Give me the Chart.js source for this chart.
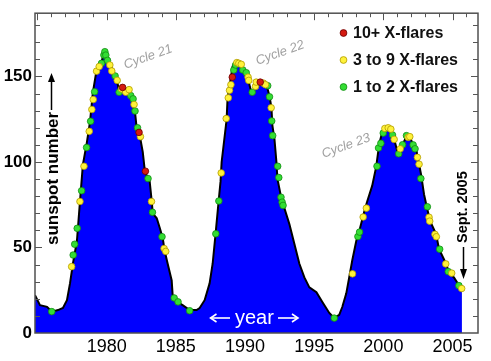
<!DOCTYPE html>
<html><head><meta charset="utf-8">
<script src="https://cdn.jsdelivr.net/npm/chart.js@4"></script>
<style>html,body{margin:0;padding:0;background:#fff;overflow:hidden}</style>
</head><body>
<canvas id="c" width="491" height="361"></canvas>
<script>
// Smoothed monthly sunspot number
const curveYears = [1974.82,1975.18,1975.69,1976.05,1976.48,1976.84,1977.13,1977.35,1977.56,1977.85,1978.07,1978.28,1978.57,1978.79,1979.0,1979.29,1979.65,1979.87,1980.09,1980.45,1980.74,1980.88,1981.17,1981.53,1981.82,1982.03,1982.18,1982.39,1982.61,1982.75,1982.97,1983.11,1983.26,1983.33,1983.62,1983.84,1984.05,1984.19,1984.41,1984.70,1984.77,1985.13,1985.49,1986.0,1986.5,1986.72,1987.08,1987.44,1987.66,1987.87,1988.09,1988.23,1988.31,1988.67,1988.74,1988.88,1989.10,1989.39,1989.75,1990.11,1990.25,1990.47,1990.83,1991.19,1991.55,1991.77,1991.91,1991.98,1992.13,1992.27,1992.34,1992.63,1992.85,1993.21,1993.57,1993.93,1994.29,1994.65,1995.16,1995.59,1996.09,1996.45,1996.81,1997.03,1997.32,1997.53,1997.75,1998.04,1998.26,1998.62,1998.83,1999.19,1999.48,1999.70,1999.91,2000.20,2000.56,2000.78,2001.07,2001.36,2001.64,2001.86,2002.08,2002.37,2002.51,2002.73,2002.94,2003.16,2003.38,2003.81,2004.02,2004.53,2004.74,2005.10,2005.46,2005.68];
const curveValues = [22.1,16.3,15.3,12.5,13.4,14.6,19.2,29.0,40.5,53.8,76.9,98.3,111.5,123.1,140.4,154.8,159.5,164.0,159.5,153.7,147.9,142.1,143.3,142.1,137.5,130.6,119.0,115.6,105.8,95.4,90.2,88.5,76.9,70.0,67.1,61.4,55.6,48.1,40.5,30.7,22.1,18.1,16.3,13.4,13.4,14.6,19.2,29.0,40.5,57.8,76.9,88.5,100.0,124.8,137.5,144.4,155.9,158.8,154.8,150.7,147.3,140.4,144.4,147.3,145.0,138.6,131.7,121.3,113.2,100.0,90.2,78.6,72.9,63.6,52.1,40.5,32.5,26.7,23.8,18.1,11.7,8.8,10.6,15.2,23.2,32.5,42.4,53.8,59.6,71.1,76.9,86.0,97.1,110.4,117.3,120.2,119.0,113.2,104.6,109.8,114.4,115.6,111.5,107.5,101.7,92.5,81.0,72.9,65.4,57.8,49.2,40.5,35.3,32.5,27.9,25.6];

// Months with 10+ X-flares
const redYears  = [1981.15,1982.34,1982.80,1989.08,1991.10];
const redValues = [143.6,117.3,94.6,149.6,146.7];

// Months with 3 to 9 X-flares
const yellowYears  = [1977.47,1978.07,1978.36,1978.74,1978.93,1979.03,1979.27,1979.46,1980.23,1980.37,1980.76,1981.07,1981.38,1981.62,1981.98,1982.44,1983.24,1984.15,1984.27,1988.28,1988.64,1988.79,1988.88,1988.98,1989.41,1989.55,1989.73,1990.22,1990.27,1990.76,1990.81,1991.33,1991.48,1991.89,1997.77,1998.54,1998.77,2000.11,2000.35,2000.54,2000.78,2001.22,2001.79,2001.91,2002.46,2002.58,2003.30,2003.35,2003.73,2003.83,2004.51,2004.94,2005.66];
const yellowValues = [38.8,76.9,97.5,117.9,130.7,136.5,153.1,155.8,156.7,153.2,147.7,142.7,140.8,142.3,133.6,114.8,76.9,49.4,47.7,93.6,125.4,137.5,141.9,145.2,158.1,157.7,157.1,149.6,147.7,144.2,146.7,146.1,145.2,131.7,34.6,67.8,73.0,119.6,120.0,119.2,113.2,107.7,114.4,114.8,102.7,98.7,67.7,65.4,57.7,56.3,40.4,35.0,26.0];

// Months with 1 to 2 X-flares
const greenYears  = [1976.03,1977.58,1977.69,1977.87,1978.19,1978.55,1978.84,1979.13,1979.63,1979.80,1979.87,1979.94,1980.06,1980.61,1980.90,1981.74,1981.91,1982.05,1982.23,1982.99,1983.31,1984.0,1984.88,1985.16,1986.0,1987.89,1988.11,1989.19,1989.32,1989.84,1990.09,1990.52,1991.64,1991.77,1991.93,1992.0,1992.36,1992.44,1992.60,1992.68,1992.75,1996.45,1998.16,1998.28,1999.54,1999.65,1999.82,1999.99,2000.66,2001.11,2001.39,2001.67,2002.15,2002.29,2002.71,2003.18,2004.07,2004.69,2005.46];
const greenValues = [12.5,45.6,51.9,61.2,83.2,108.5,123.8,141.1,157.7,162.5,164.5,162.5,159.4,150.3,140.8,138.8,136.9,129.8,120.0,90.3,70.6,56.3,20.5,18.2,13.0,58.0,77.2,153.8,156.7,153.8,152.2,140.8,144.6,138.1,124.0,115.4,97.5,90.9,79.4,76.5,74.6,8.7,56.4,59.0,97.5,108.2,110.9,116.9,115.8,104.8,110.1,115.4,110.0,107.7,90.3,73.8,49.0,35.9,27.7];

const xTickLabels = [1980,1985,1990,1995,2000,2005];
const yTickLabels = [0,50,100,150];
const legendLabels = ['10+ X-flares','3 to 9 X-flares','1 to 2 X-flares'];
const cycleLabels = ['Cycle 21','Cycle 22','Cycle 23'];

const FONT = '"Liberation Sans", Arial, sans-serif';
const pts = (xs, ys) => xs.map((v, i) => ({x: v, y: ys[i]}));

const dotStyles = [
  {bg:'#d41a10', bd:'#6a0000'},
  {bg:'#fff23a', bd:'#b09a00'},
  {bg:'#33dd33', bd:'#138a13'}
];

function arrow(ctx, x1, y1, x2, y2, filled, hw, hl){
  const ang = Math.atan2(y2 - y1, x2 - x1);
  ctx.beginPath(); ctx.moveTo(x1, y1);
  ctx.lineTo(x2 - Math.cos(ang) * (filled ? hl * 0.7 : 0), y2 - Math.sin(ang) * (filled ? hl * 0.7 : 0));
  ctx.stroke();
  const bx = x2 - Math.cos(ang) * hl, by = y2 - Math.sin(ang) * hl;
  const px = -Math.sin(ang) * hw, py = Math.cos(ang) * hw;
  ctx.beginPath();
  ctx.moveTo(bx + px, by + py); ctx.lineTo(x2, y2); ctx.lineTo(bx - px, by - py);
  if (filled) { ctx.closePath(); ctx.fill(); } else ctx.stroke();
}

const deco = {
  id: 'deco',
  afterDatasetsDraw(chart){
    const {ctx, chartArea: a, scales: {x, y}} = chart;
    ctx.save();
    // frame and inward ticks
    ctx.strokeStyle = '#505050'; ctx.lineWidth = 1.5;
    ctx.strokeRect(a.left, a.top, a.right - a.left, a.bottom - a.top);
    ctx.lineWidth = 1; ctx.strokeStyle = '#555';
    ctx.beginPath();
    for (let v = 1975; v <= 2006; v++) {
      const px = Math.round(x.getPixelForValue(v)) + 0.5;
      const len = v % 5 === 0 ? 7 : 4;
      ctx.moveTo(px, a.top); ctx.lineTo(px, a.top + len);
    }
    for (let v = 10; v <= 180; v += 10) {
      const py = Math.round(y.getPixelForValue(v)) + 0.5;
      const len = v % 50 === 0 ? 7 : 5;
      ctx.moveTo(a.left, py); ctx.lineTo(a.left + len, py);
      ctx.moveTo(a.right, py); ctx.lineTo(a.right - len, py);
    }
    ctx.stroke();

    // cycle labels
    ctx.fillStyle = '#a0a0a0';
    ctx.font = 'italic 13px ' + FONT;
    ctx.textAlign = 'center'; ctx.textBaseline = 'middle';
    [[148, 57], [280, 53], [346, 146]].forEach((p, i) => {
      ctx.save(); ctx.translate(p[0], p[1]); ctx.rotate(-20 * Math.PI / 180);
      ctx.fillText(cycleLabels[i], 0, 0); ctx.restore();
    });

    // sunspot number axis label (inside plot)
    ctx.fillStyle = '#000'; ctx.strokeStyle = '#000';
    ctx.save(); ctx.translate(58, 245); ctx.rotate(-Math.PI / 2);
    ctx.font = 'bold 17px ' + FONT; ctx.textAlign = 'left'; ctx.textBaseline = 'alphabetic';
    ctx.fillText('sunspot number', 0, 0); ctx.restore();
    ctx.lineWidth = 1.5;
    arrow(ctx, 51.5, 110, 51.5, 73, true, 3.5, 9);

    // Sept. 2005 marker
    ctx.save(); ctx.translate(467, 243); ctx.rotate(-Math.PI / 2);
    ctx.font = 'bold 14.5px ' + FONT; ctx.textAlign = 'left'; ctx.textBaseline = 'alphabetic';
    ctx.fillText('Sept. 2005', 0, 0); ctx.restore();
    arrow(ctx, 463.5, 247, 463.5, 279, true, 3.5, 10);

    // year label (white, on fill)
    ctx.fillStyle = '#fff'; ctx.strokeStyle = '#fff';
    ctx.font = '20px ' + FONT; ctx.textAlign = 'left'; ctx.textBaseline = 'alphabetic';
    ctx.fillText('year', 235, 323.5);
    ctx.lineWidth = 1.6;
    arrow(ctx, 230, 318, 210.5, 318, false, 4, 6);
    arrow(ctx, 278, 318, 298, 318, false, 4, 6);

    // legend
    ctx.font = 'bold 16px ' + FONT; ctx.textBaseline = 'middle';
    [33, 60, 87].forEach((py, i) => {
      ctx.beginPath(); ctx.arc(343.5, py, 3.4, 0, Math.PI * 2);
      ctx.fillStyle = dotStyles[i].bg; ctx.fill();
      ctx.lineWidth = 0.8; ctx.strokeStyle = dotStyles[i].bd; ctx.stroke();
      ctx.fillStyle = '#111';
      ctx.fillText(legendLabels[i], 353, py + 1);
    });
    ctx.restore();
  }
};

const dotDataset = (label, xs, ys, s) => ({
  type: 'scatter', label, data: pts(xs, ys), order: 0,
  pointRadius: 3.3, pointBackgroundColor: s.bg, pointBorderColor: s.bd, pointBorderWidth: 0.8,
  showLine: false
});

new Chart(document.getElementById('c'), {
  type: 'line',
  data: {
    datasets: [
      dotDataset(legendLabels[0], redYears, redValues, dotStyles[0]),
      dotDataset(legendLabels[1], yellowYears, yellowValues, dotStyles[1]),
      dotDataset(legendLabels[2], greenYears, greenValues, dotStyles[2]),
      {
        label: 'sunspot number', data: pts(curveYears, curveValues), order: 5,
        borderColor: '#000', borderWidth: 2, backgroundColor: '#0000ff', fill: 'origin',
        pointRadius: 0, tension: 0
      }
    ]
  },
  options: {
    responsive: false, animation: false, devicePixelRatio: 1,
    layout: {padding: {top: 9, right: 13, left: 0, bottom: 0}},
    plugins: {legend: {display: false}, tooltip: {enabled: false}},
    scales: {
      x: {
        type: 'linear', min: 1974.82, max: 2006.84,
        grid: {display: false, drawTicks: false}, border: {display: false},
        afterBuildTicks: s => { s.ticks = xTickLabels.map(v => ({value: v})); },
        afterFit: s => { s.height = 28; },
        ticks: {color: '#000', padding: 3, maxRotation: 0, autoSkip: false, font: {family: FONT, size: 18}, callback: v => String(v)}
      },
      y: {
        min: 0, max: 187,
        grid: {display: false, drawTicks: false}, border: {display: false},
        afterBuildTicks: s => { s.ticks = yTickLabels.map(v => ({value: v})); },
        afterFit: s => { s.width = 35; },
        ticks: {color: '#000', padding: 3, font: {family: FONT, size: 17, weight: 'bold'}, callback: v => String(v)}
      }
    }
  },
  plugins: [deco]
});
</script>
</body></html>
